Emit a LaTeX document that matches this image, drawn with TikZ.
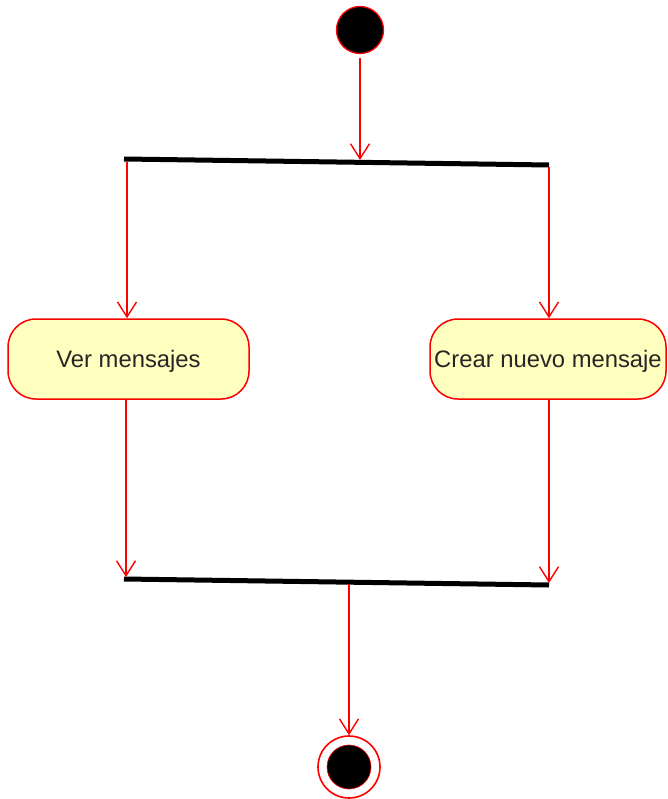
\documentclass[tikz,border=0pt]{standalone}
\usepackage{fontspec}
\setmainfont{Liberation Sans}
\usetikzlibrary{arrows.meta}
\definecolor{umlred}{RGB}{255,0,0}
\definecolor{actfill}{RGB}{255,255,192}
\begin{document}
\begin{tikzpicture}[x=1pt,y=-1pt,
  flow/.style={draw=umlred, line width=1.4pt,
    -{Straight Barb[length=15pt,width=19pt,line width=1.4pt]}},
  syncbar/.style={line width=5pt, draw=black},
  action/.style={draw=umlred, line width=1.5pt, fill=actfill,
    rounded corners=28pt, minimum height=80pt, inner sep=0pt,
    text height=17pt, text depth=0pt,
    font=\fontsize{23.8}{28}\selectfont, text=black!85},
  initial/.style={circle, fill=black, draw=umlred, line width=1.3pt,
    minimum size=47pt, inner sep=0pt},
  finalring/.style={circle, fill=white, draw=umlred, line width=1.6pt,
    minimum size=62pt, inner sep=0pt},
  finaldot/.style={circle, fill=black, draw=umlred, line width=0.6pt,
    minimum size=44pt, inner sep=0pt},
]
\useasboundingbox (0,0) rectangle (667,799);

% initial state
\node[initial] (start) at (360,30) {};

% fork bar
\coordinate (fork-w) at (124,159);
\coordinate (fork-e) at (549,165);
\draw[syncbar] (fork-w) -- (fork-e);
\coordinate (fork-in) at (360,160);
\coordinate (fork-l) at (127,162);
\coordinate (fork-r) at (549,167);

% actions
\node[action, minimum width=241pt] (ver) at (128.5,359) {Ver mensajes};
\node[action, minimum width=236pt] (crear) at (548,359) {Crear nuevo mensaje};

% join bar
\coordinate (join-w) at (124,579);
\coordinate (join-e) at (549,585);
\draw[syncbar] (join-w) -- (join-e);
\coordinate (join-l) at (126,577);
\coordinate (join-r) at (549,583);
\coordinate (join-out) at (349,584);

% final state
\node[finalring] (final) at (349,767) {};
\node[finaldot] (final-dot) at (final.center) {};

% control flows
\draw[flow, shorten <=4pt] (start) -- (fork-in);
\draw[flow] (fork-l) -- (fork-l |- ver.north);
\draw[flow] (fork-r) -- (fork-r |- crear.north);
\draw[flow] (ver.south -| join-l) -- (join-l);
\draw[flow] (crear.south -| join-r) -- (join-r);
\draw[flow] (join-out) -- (final);
\end{tikzpicture}
\end{document}
